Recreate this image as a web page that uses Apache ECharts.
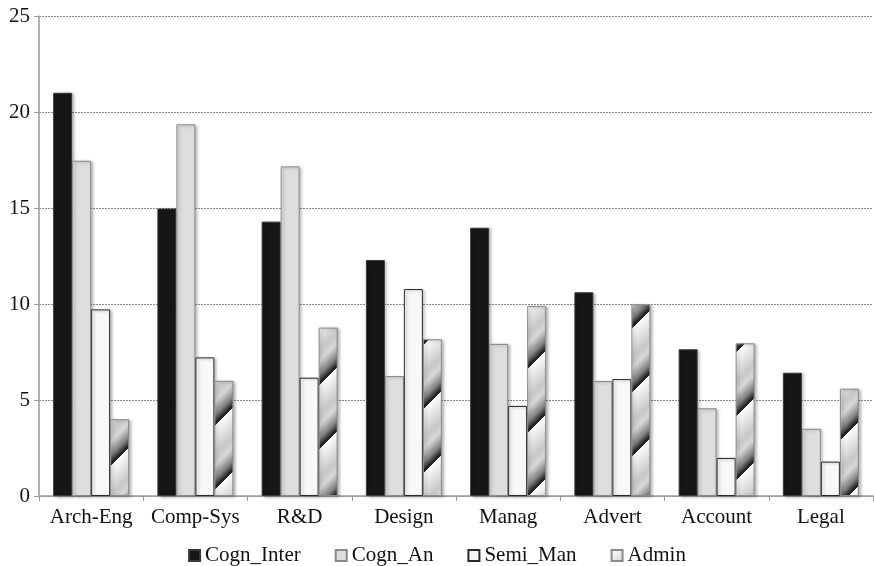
<!DOCTYPE html>
<html>
<head>
<meta charset="utf-8">
<script src="https://cdn.jsdelivr.net/npm/echarts@6/dist/echarts.min.js"></script>
<style>
  html, body { margin: 0; padding: 0; background: #fff; }
  #chart { width: 874px; height: 566px; }
</style>
</head>
<body>
<div id="chart"></div>
<script>
// Occupational groups on the x axis
const categories = ['Arch-Eng', 'Comp-Sys', 'R&D', 'Design', 'Manag', 'Advert', 'Account', 'Legal'];

// Values per task type
const cognInter = [21.0, 14.97, 14.29, 12.29, 13.97, 10.61, 7.64, 6.42];
const cognAn    = [17.46, 19.36, 17.17, 6.25, 7.92, 5.99, 4.57, 3.5];
const semiMan   = [9.72, 7.22, 6.16, 10.78, 4.69, 6.09, 1.98, 1.79];
const admin     = [4.0, 6.0, 8.77, 8.16, 9.9, 9.98, 7.95, 5.59];

const seriesNames = ['Cogn_Inter', 'Cogn_An', 'Semi_Man', 'Admin'];

// Diagonal sawtooth gradient tile used for the Admin bars
function makeStripeTile(size) {
  const c = document.createElement('canvas');
  c.width = size; c.height = size;
  const ctx = c.getContext('2d');
  const img = ctx.createImageData(size, size);
  const stops = [[0, 252], [0.45, 200], [0.62, 214], [0.84, 125], [0.95, 40], [1, 25]];
  function shade(t) {
    for (let i = 1; i < stops.length; i++) {
      if (t <= stops[i][0]) {
        const a = stops[i - 1], b = stops[i];
        const f = (t - a[0]) / (b[0] - a[0]);
        return a[1] + (b[1] - a[1]) * f;
      }
    }
    return stops[stops.length - 1][1];
  }
  for (let y = 0; y < size; y++) {
    for (let x = 0; x < size; x++) {
      const t = ((x + y) % size) / size;
      const v = Math.round(shade(t));
      const k = (y * size + x) * 4;
      img.data[k] = v; img.data[k + 1] = v; img.data[k + 2] = v; img.data[k + 3] = 255;
    }
  }
  ctx.putImageData(img, 0, 0);
  return c;
}
const stripeTile = makeStripeTile(64);

const serif = '"Liberation Serif", "Times New Roman", serif';
const barShadow = {
  shadowColor: 'rgba(0,0,0,0.28)',
  shadowBlur: 3,
  shadowOffsetX: 2,
  shadowOffsetY: 1
};

const styles = [
  Object.assign({ color: '#161616', borderColor: '#3a3a3a', borderWidth: 1 }, barShadow),
  Object.assign({ color: '#dedede', borderColor: '#8a8a8a', borderWidth: 1 }, barShadow),
  Object.assign({ color: '#f8f8f8', borderColor: '#2a2a2a', borderWidth: 1 }, barShadow),
  Object.assign({ color: { image: stripeTile, repeat: 'repeat' }, borderColor: '#8a8a8a', borderWidth: 1 }, barShadow)
];
const values = [cognInter, cognAn, semiMan, admin];

const chart = echarts.init(document.getElementById('chart'), null, { renderer: 'canvas' });
chart.setOption({
  animation: false,
  backgroundColor: '#ffffff',
  grid: { left: 39, right: 1, top: 16, bottom: 70, containLabel: false },
  legend: {
    top: 540,
    left: 'center',
    icon: 'rect',
    itemWidth: 11,
    itemHeight: 11,
    itemGap: 34,
    textStyle: { fontFamily: serif, fontSize: 21, color: '#111' },
    data: seriesNames
  },
  xAxis: {
    type: 'category',
    data: categories,
    axisLine: { lineStyle: { color: '#9a9a9a', width: 1.5 } },
    axisTick: { show: true, length: 5, lineStyle: { color: '#9a9a9a' } },
    axisLabel: { fontFamily: serif, fontSize: 21, color: '#111', margin: 11, interval: 0 }
  },
  yAxis: {
    type: 'value',
    min: 0,
    max: 25,
    interval: 5,
    axisLine: { show: true, lineStyle: { color: '#9a9a9a', width: 1.5 } },
    axisTick: { show: true, length: 5, lineStyle: { color: '#9a9a9a' } },
    axisLabel: { fontFamily: serif, fontSize: 21, color: '#111', margin: 9 },
    splitLine: { show: true, lineStyle: { color: '#8a8a8a', type: [2, 1], width: 1 } }
  },
  series: seriesNames.map((name, i) => ({
    name: name,
    type: 'bar',
    data: values[i],
    barWidth: 19,
    barGap: '0%',
    itemStyle: styles[i]
  }))
});
</script>
</body>
</html>
